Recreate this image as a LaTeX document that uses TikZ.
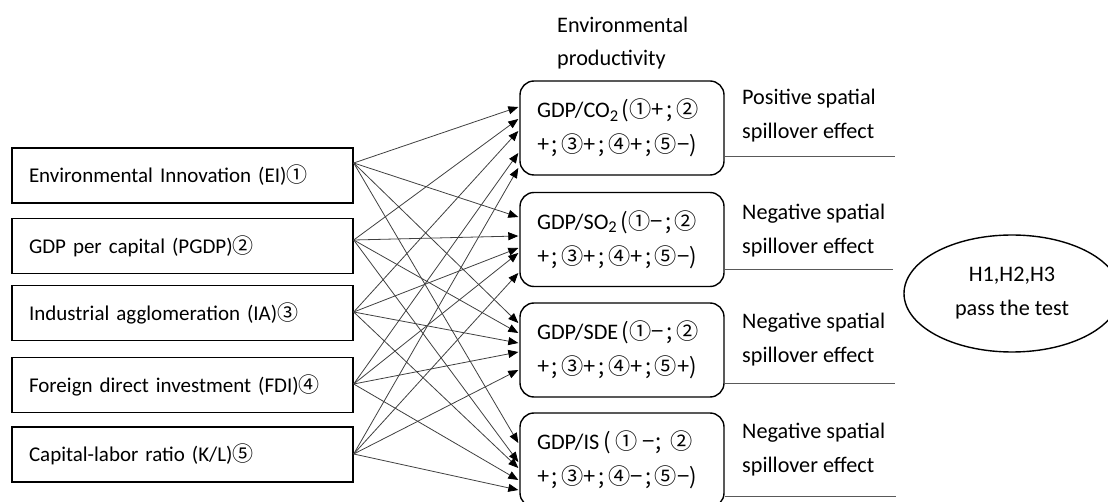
\documentclass[tikz,border=0pt]{standalone}
\usepackage{fontspec}
\setmainfont{Carlito}
\newfontfamily\cjk{Noto Sans CJK SC}
\usetikzlibrary{arrows.meta,shapes.geometric}
\newcommand{\cn}[1]{{\cjk #1}}
\newcommand{\sm}{\hspace{2.5pt};\hspace{3.5pt}}
\newcommand{\subtwo}{\raisebox{-0.35ex}{\fontsize{16.5}{16.5}\selectfont 2}}
\begin{document}
\begin{tikzpicture}[x=1pt,y=-1pt,
  every node/.style={font=\fontsize{22.2}{34}\selectfont},
  leftbox/.style={draw, line width=1.4pt, text width=307pt, inner xsep=17pt, inner ysep=0pt, minimum height=55pt, align=left, font=\fontsize{21}{34}\selectfont},
  rbox/.style={draw, line width=1.4pt, rounded corners=14pt, text width=170pt, inner xsep=17pt, inner ysep=0pt, minimum height=94pt, align=left, font=\fontsize{22.2}{35}\selectfont},
  effect/.style={anchor=west, align=left, inner sep=0pt},
  underl/.style={draw=black!65, line width=0.8pt},
  arr/.style={draw=black!75, line width=0.8pt, -{Triangle[length=10pt,width=8pt,color=black]}}
]
\useasboundingbox (0,0) rectangle (1108,502);

% left boxes
\node[leftbox] (s1) at (182.5,175.5) {Environmental Innovation (EI)\cn{①}};
\node[leftbox] (s2) at (182.5,246) {GDP per capital (PGDP)\cn{②}};
\node[leftbox] (s3) at (182.5,313) {Industrial agglomeration (IA)\cn{③}};
\node[leftbox] (s4) at (182.5,385) {Foreign direct investment (FDI)\cn{④}};
\node[leftbox] (s5) at (182.5,454.5) {Capital-labor ratio (K/L)\cn{⑤}};

% title
\node[anchor=west, align=left, inner sep=0pt, font=\fontsize{22.2}{33}\selectfont] (title) at (557,43.5) {Environmental\\productivity};

% right boxes
\node[rbox] (t1) at (622,128) {\mbox{GDP/CO\subtwo\cn{\,(①+\sm②}}\\\mbox{\cn{+\sm③+\sm④+\sm⑤−)}}};
\node[rbox] (t2) at (622,239.5) {\mbox{GDP/SO\subtwo\cn{\,(①−\sm②}}\\\mbox{\cn{+\sm③+\sm④+\sm⑤−)}}};
\node[rbox] (t3) at (622,350) {\mbox{GDP/SDE\cn{\,(①−\sm②}}\\\mbox{\cn{+\sm③+\sm④+\sm⑤+)}}};
\node[rbox] (t4) at (622,460) {\mbox{GDP/IS\cn{\,(\hspace{5pt}①\hspace{5pt}−;\hspace{9pt}②}}\\\mbox{\cn{+\sm③+\sm④−\sm⑤−)}}};

% effect labels
\node[effect] (e1) at (742,116) {Positive spatial\\spillover effect};
\node[effect] (e2) at (742,231) {Negative spatial\\spillover effect};
\node[effect] (e3) at (742,340) {Negative spatial\\spillover effect};
\node[effect] (e4) at (742,450) {Negative spatial\\spillover effect};

\coordinate (u1) at (895,156);
\coordinate (u2) at (893,269);
\coordinate (u3) at (895,383);
\coordinate (u4) at (896,496);
\draw[underl] (t1.east |- u1) -- (u1);
\draw[underl] (t2.east |- u2) -- (u2);
\draw[underl] (t3.east |- u3) -- (u3);
\draw[underl] (t4.east |- u4) -- (u4);

% hypothesis ellipse
\node[ellipse, draw, line width=1.4pt, minimum width=216pt, minimum height=117pt, align=center, inner sep=0pt] (h) at (1012,293.5) {H1,H2,H3\\pass the test};

% arrows
\foreach \s/\ys in {1/12.5, 2/6, 3/1, 4/1, 5/0.5}{
  \foreach \t/\a/\b/\c/\d/\e in {1/21/9/-3/-25/-40, 2/22.5/3.5/-8.5/-13.5/-33.5, 3/27/17/7/-2/-20, 4/17/-2/-8/-20/-30}{
    \ifcase\s\or\def\yt{\a}\or\def\yt{\b}\or\def\yt{\c}\or\def\yt{\d}\or\def\yt{\e}\fi
    \draw[arr] ([yshift=\ys pt]s\s.east) -- ([yshift=\yt pt, xshift=-1pt]t\t.west);
  }
}
\end{tikzpicture}
\end{document}
